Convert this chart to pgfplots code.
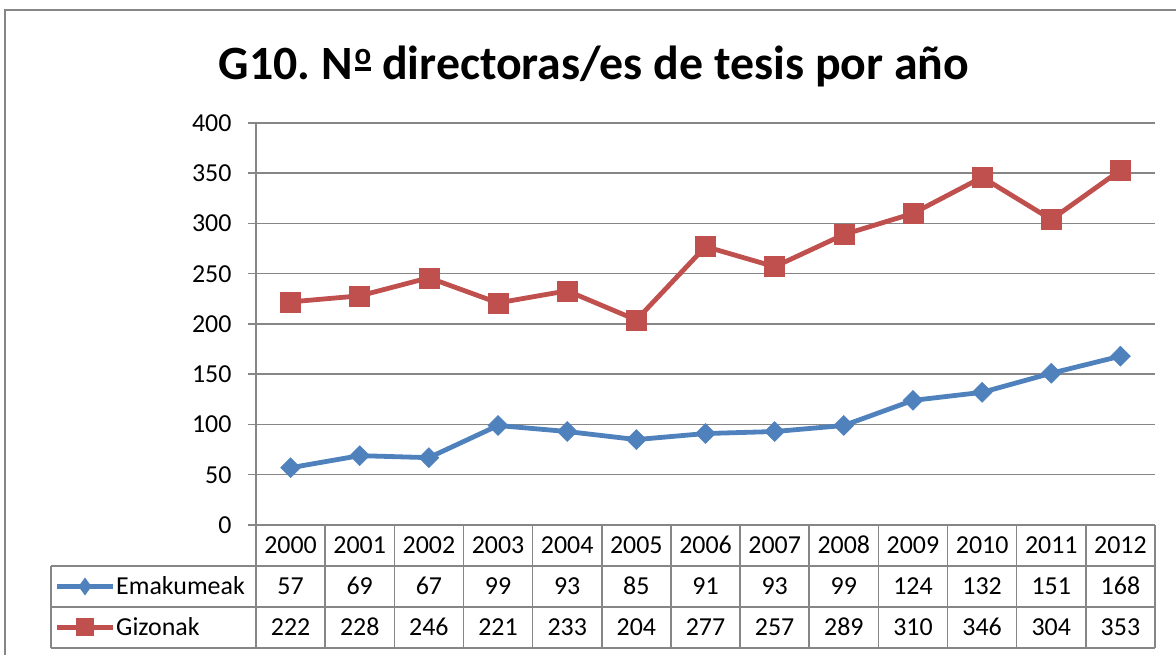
\documentclass[border=0pt]{standalone}
\usepackage{pgfplots}
\pgfplotsset{compat=1.18}
\usepackage{fontspec}
\setmainfont{Carlito}
\definecolor{cblue}{HTML}{4F81BD}
\definecolor{cred}{HTML}{C0504D}
\definecolor{cgrid}{HTML}{868686}
\newcommand{\ordo}{\kern2bp\raisebox{8bp}{\vbox{\hbox{\fontsize{31}{31}\selectfont\bfseries o}\kern2.5bp\hrule height 3.8bp}}}
\begin{document}
\frenchspacing
\begin{tikzpicture}[x=1bp,y=1bp]
\useasboundingbox (0,0) rectangle (1176,655);
\draw[cgrid, line width=1.5bp] (5,-5) -- (5,645) -- (1185,645);
\node[font=\bfseries\fontsize{48}{54}\selectfont] at (594,589) {G10. N\ordo{} directoras/es de tesis por año};
\begin{axis}[
  at={(256bp,130bp)}, anchor=south west,
  scale only axis, width=899bp, height=402bp,
  xmin=-0.5, xmax=12.5, ymin=0, ymax=400,
  xtick=\empty, ytick={0,50,...,400},
  axis x line*=bottom, axis y line*=left,
  axis line style={cgrid, line width=1.5bp, -},
  ymajorgrids, grid style={cgrid, line width=1.5bp},
  tick align=outside, major tick length=8bp,
  tick style={cgrid, line width=1.5bp},
  /pgf/number format/assume math mode=true,
  yticklabel style={font=\fontsize{26}{30}\selectfont, xshift=-13bp},
  clip=false,
]
\addplot[cblue, line width=4.8bp, mark=diamond*, mark size=10bp, mark options={fill=cblue, line width=0.5bp, xscale=1.33}] coordinates {
(0,57) (1,69) (2,67) (3,99) (4,93) (5,85) (6,91) (7,93) (8,99) (9,124) (10,132) (11,151) (12,168)};
\addplot[cred, line width=4.8bp, mark=square*, mark size=10bp, mark options={fill=cred, line width=0.5bp}] coordinates {
(0,222) (1,228) (2,246) (3,221) (4,233) (5,204) (6,277) (7,257) (8,289) (9,310) (10,346) (11,304) (12,353)};
\end{axis}
% data table grid
\begin{scope}[cgrid, line width=1.5bp]
\draw (51,89) -- (1155,89);
\draw (51,48) -- (1155,48);
\draw (51,7) -- (1155,7);
\draw (51,7) -- (51,89);
\foreach \k in {0,...,13} \draw ({256+69.154*\k},7) -- ({256+69.154*\k},130);
\end{scope}
\begin{scope}[font=\fontsize{26}{30}\selectfont]
\foreach \i/\yr/\e/\g in {0/2000/57/222,1/2001/69/228,2/2002/67/246,3/2003/99/221,4/2004/93/233,5/2005/85/204,6/2006/91/277,7/2007/93/257,8/2008/99/289,9/2009/124/310,10/2010/132/346,11/2011/151/304,12/2012/168/353}{
  \node[anchor=base, inner sep=0pt] at ({290.58+69.154*\i},101.5) {\yr};
  \node[anchor=base, inner sep=0pt] at ({290.58+69.154*\i},60.5) {\e};
  \node[anchor=base, inner sep=0pt] at ({290.58+69.154*\i},19.5) {\g};
}
% legend keys
\draw[cblue, line width=4.8bp] (57,68.5) -- (113,68.5);
\fill[cblue] (85,77.5) -- (91.5,68.5) -- (85,59.5) -- (78.5,68.5) -- cycle;
\draw[cred, line width=4.8bp] (57,27.5) -- (113,27.5);
\fill[cred] (76,18.5) rectangle (94,36.5);
\node[anchor=base west, inner sep=0pt] at (116,60.5) {Emakumeak};
\node[anchor=base west, inner sep=0pt] at (116,19.5) {Gizonak};
\end{scope}
\end{tikzpicture}
\end{document}
